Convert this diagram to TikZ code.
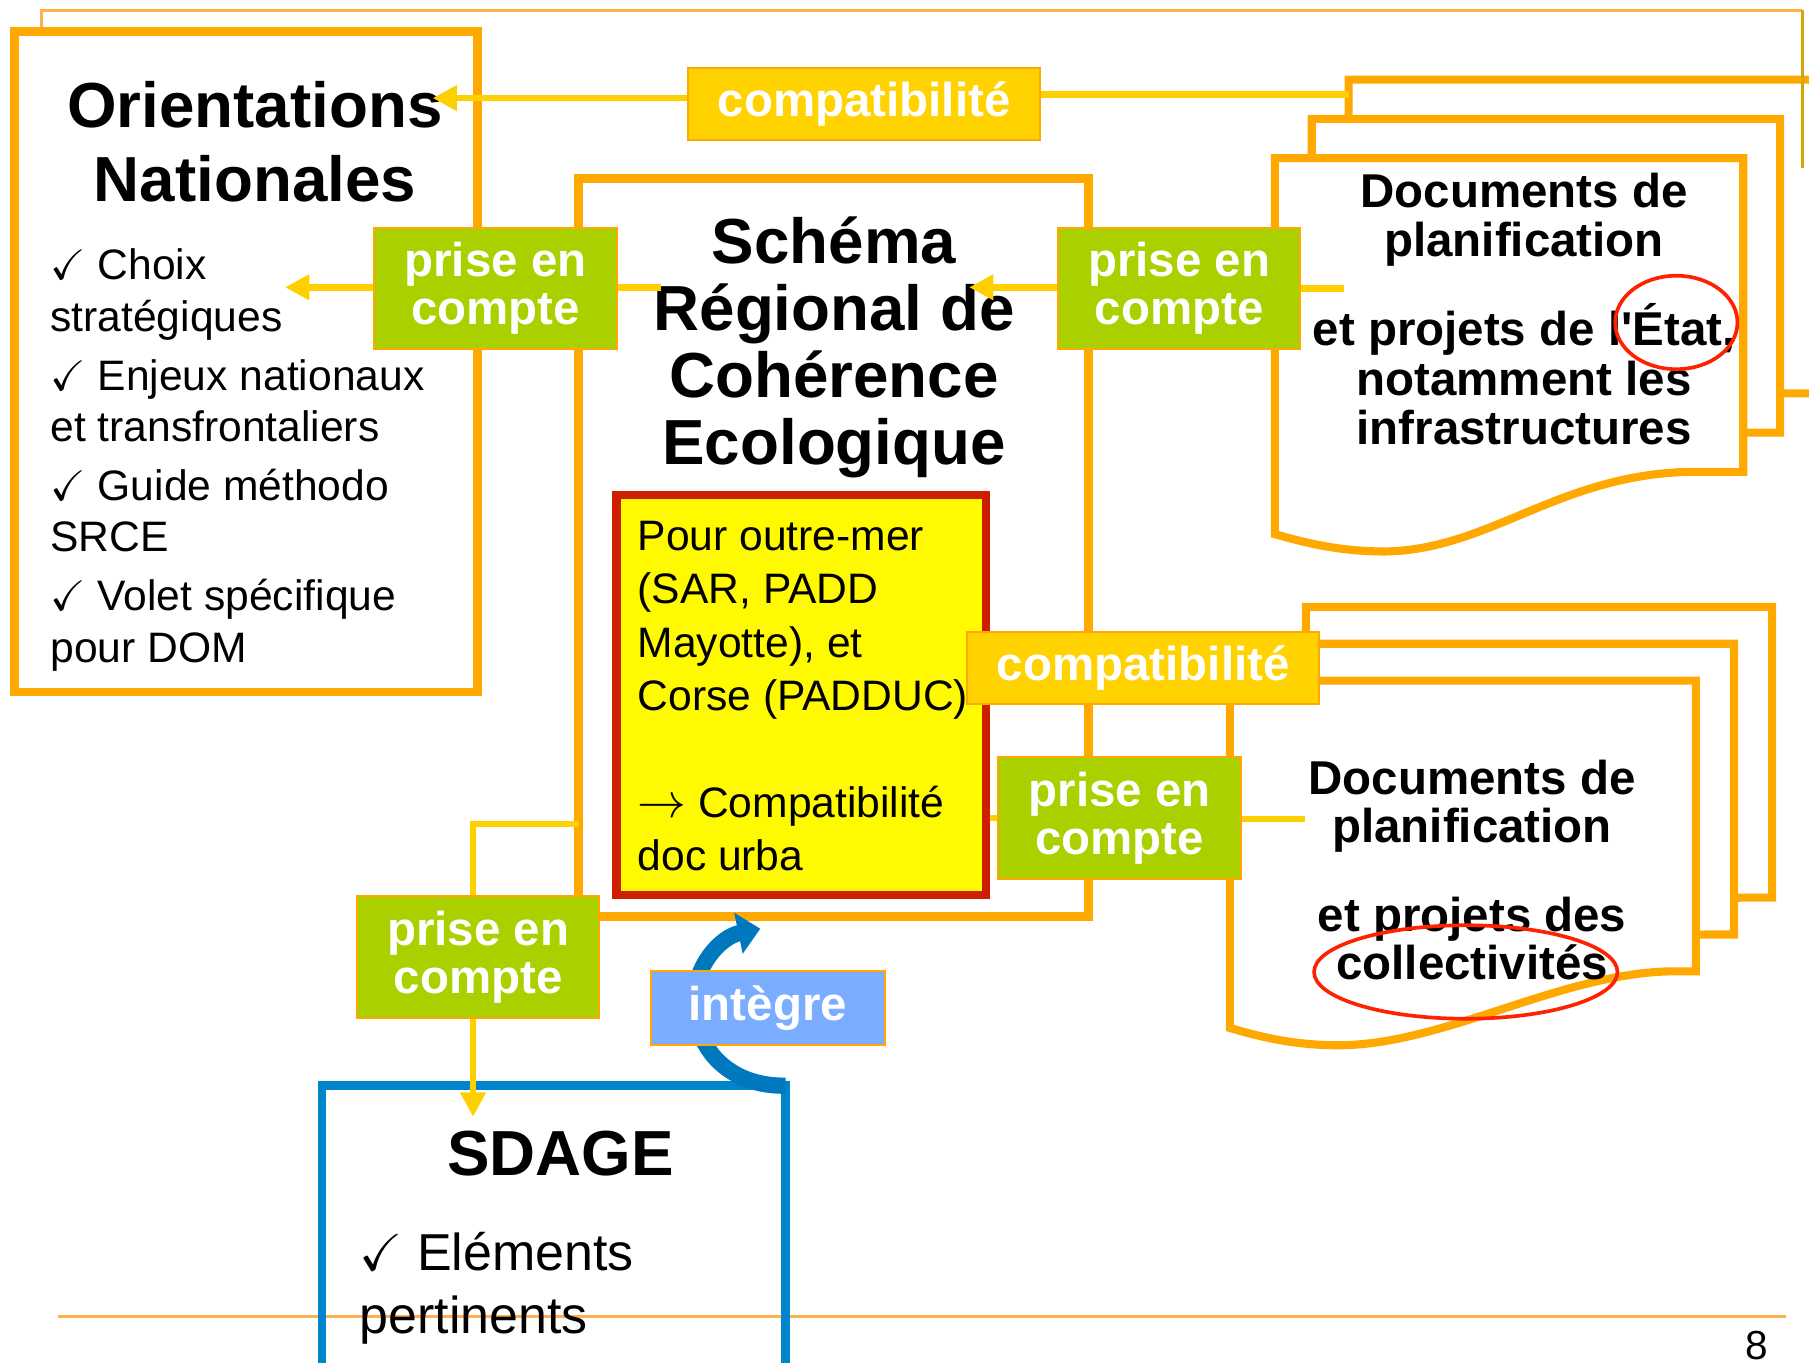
\documentclass[tikz,border=0pt]{standalone}
\usepackage{fontspec}
\setmainfont{Liberation Sans}
\usepackage{amssymb}
\usetikzlibrary{arrows.meta}

\definecolor{boxorange}{RGB}{255,168,0}
\definecolor{lineorange}{RGB}{255,175,75}
\definecolor{rulegold}{RGB}{215,165,0}
\definecolor{linkgold}{RGB}{255,208,0}
\definecolor{labgreen}{RGB}{170,208,0}
\definecolor{labgold}{RGB}{255,210,0}
\definecolor{outrered}{RGB}{205,30,0}
\definecolor{outreyellow}{RGB}{255,250,0}
\definecolor{circred}{RGB}{255,34,0}
\definecolor{sdageblue}{RGB}{0,132,204}
\definecolor{arcblue}{RGB}{0,120,190}
\definecolor{integblue}{RGB}{122,172,255}

\pgfdeclarelayer{tags}
\pgfsetlayers{main,tags}

\tikzset{
  bigframe/.style={draw=boxorange, line width=2.1pt},
  docpage/.style={draw=boxorange, line width=2pt, fill=white},
  link/.style={draw=linkgold, line width=1.6pt},
  linkarrow/.style={link, -{Triangle[length=6pt, width=6pt]}},
  tag/.style={draw=boxorange, line width=0.5pt, text=white, inner sep=0pt, align=center,
    font=\fontsize{11.7}{11.8}\bfseries\selectfont},
  prise/.style={tag, fill=labgreen, minimum width=2.1cm, minimum height=1.05cm},
  compat/.style={tag, fill=labgold, minimum width=3.05cm, minimum height=0.62cm},
  doctext/.style={align=center, inner sep=0pt, font=\fontsize{11.7}{12.2}\bfseries\selectfont},
  listtext/.style={align=left, inner sep=0pt, font=\fontsize{10.5}{12.7}\selectfont},
  ring/.style={draw=circred, line width=0.9pt},
}

\begin{document}
\begin{tikzpicture}[x=0.01cm, y=-0.01cm]
  \useasboundingbox (0,0) rectangle (1568,1181);
  \clip (0,0) rectangle (1568,1181);

  % slide rules
  \draw[color=lineorange, line width=0.75pt] (36,27) -- (36,9) -- (1562,9);
  \draw[color=lineorange, line width=0.9pt] (50,1141) -- (1548,1141);
  \node[font=\fontsize{10}{12}\selectfont] (pagenum) at (1523,1166) {8};

  % frames
  \draw[bigframe] (12.5,27.5) rectangle (414,600);
  \draw[bigframe] (501.5,154.5) rectangle (943.5,794.5);
  \draw[draw=sdageblue, line width=2.1pt] (279,941) rectangle (681,1200);

  % document stacks
  \foreach \s in {2,1,0}
    \draw[docpage, shift={(32*\s,-34*\s)}] (1105,137) -- (1511,137) -- (1511,409) -- (1463,409)
      .. controls (1350,412) and (1290,477) .. (1200,478)
      .. controls (1160,478) and (1130,470) .. (1105,463) -- cycle;
  \foreach \s in {2,1,0}
    \draw[docpage, shift={(33*\s,-32*\s)}] (1066,590) -- (1470,590) -- (1470,842) -- (1445,842)
      .. controls (1350,845) and (1250,906) .. (1160,906)
      .. controls (1120,906) and (1090,898) .. (1066,891) -- cycle;
  \draw[color=rulegold, line width=0.75pt] (1562,9) -- (1562,146);

  \node[draw=outrered, fill=outreyellow, line width=2pt, minimum width=3.2cm, minimum height=3.46cm,
    inner sep=0pt] (outremer) at (694.5,602.5) {};

  % texts
  \node[font=\fontsize{15.7}{18.2}\bfseries\selectfont, align=center] (orient) at (221,123)
    {Orientations\\Nationales};
  \node[listtext, anchor=north west] (orientlist) at (43,215)
    {$\checkmark$ Choix\\stratégiques\\[1.8pt]$\checkmark$ Enjeux nationaux\\et transfrontaliers\\[1.8pt]%
     $\checkmark$ Guide méthodo\\SRCE\\[1.8pt]$\checkmark$ Volet spécifique\\pour DOM};
  \node[font=\fontsize{15.7}{16.5}\bfseries\selectfont, align=center] (srce) at (723,301)
    {Schéma\\Régional de\\Cohérence\\Ecologique};
  \node[listtext, font=\fontsize{10.5}{13.14}\selectfont, anchor=north west] (outretext) at (552,451)
    {Pour outre-mer\\(SAR, PADD\\Mayotte), et\\Corse (PADDUC)\\ \\{\fontsize{13}{13}\selectfont$\rightarrow$} Compatibilité\\doc urba};
  \node[doctext, anchor=north] (docetat) at (1321,149)
    {Documents de\\planification\\[8.2pt]et projets de l\textquotesingle État,\\notamment les\\infrastructures};
  \node[doctext, font=\fontsize{11.7}{11.9}\bfseries\selectfont, anchor=north] (doccoll) at (1276,658)
    {Documents de\\planification\\[10pt]et projets des\\collectivités};
  \node[font=\fontsize{15.7}{18}\bfseries\selectfont] (sdage) at (486,1000) {SDAGE};
  \node[listtext, font=\fontsize{12.8}{15.6}\selectfont, anchor=north west] (sdagelist) at (311,1067)
    {$\checkmark$ Eléments\\pertinents};

  \draw[ring] (1453,279.5) ellipse [x radius=53, y radius=40.5];
  \draw[ring] (1270.5,842.5) ellipse [x radius=131.5, y radius=40.5];

  % labels
  \begin{pgfonlayer}{tags}
    \node[compat] (compA) at (749,90) {compatibilité};
    \node[compat] (compB) at (991,579) {compatibilité};
    \node[prise] (priseA) at (429.5,250) {prise en\\compte};
    \node[prise] (priseB) at (1022,250) {prise en\\compte};
    \node[prise] (priseC) at (970.5,709) {prise en\\compte};
    \node[prise] (priseD) at (414.5,829.5) {prise en\\compte};
    \node[tag, fill=integblue, minimum width=2.03cm, minimum height=0.64cm] (integre) at (665.5,874) {intègre};
  \end{pgfonlayer}

  % connectors
  \coordinate (orientTip) at (375,85);
  \coordinate (docTopEnd) at (1169,82);
  \coordinate (choixTip) at (247,249);
  \coordinate (srceInA) at (573,249);
  \coordinate (srceTip) at (840,249);
  \coordinate (docEtatIn) at (1165,250);
  \coordinate (docCollIn) at (1131,710);
  \coordinate (srceLeft) at (501.5,714);
  \coordinate (sdageTip) at (410,968);
  \coordinate (sdageCorner) at (681,941);
  \coordinate (srceBottom) at (659,805);

  \draw[linkarrow] (compA.west |- orientTip) -- (orientTip);
  \draw[link] (compA.east |- docTopEnd) -- (docTopEnd);
  \draw[linkarrow] (priseA.west |- choixTip) -- (choixTip);
  \draw[link] (priseA.east |- srceInA) -- (srceInA);
  \draw[linkarrow] (priseB.west |- srceTip) -- (srceTip);
  \draw[link] (priseB.east |- docEtatIn) -- (docEtatIn);
  \draw[link] (outremer.east |- priseC.west) -- (priseC.west);
  \draw[link] (priseC.east |- docCollIn) -- (docCollIn);
  \draw[link] (priseD.north -| sdageTip) -- (sdageTip |- srceLeft) -- (srceLeft);
  \draw[linkarrow] (priseD.south -| sdageTip) -- (sdageTip);
  \draw[draw=arcblue, line width=4pt, -{Triangle[length=5.5pt, width=10pt]}] (sdageCorner)
    .. controls (635,942) and (602,912) .. (602,868)
    .. controls (602,836) and (625,812) .. (srceBottom);
\end{tikzpicture}
\end{document}
